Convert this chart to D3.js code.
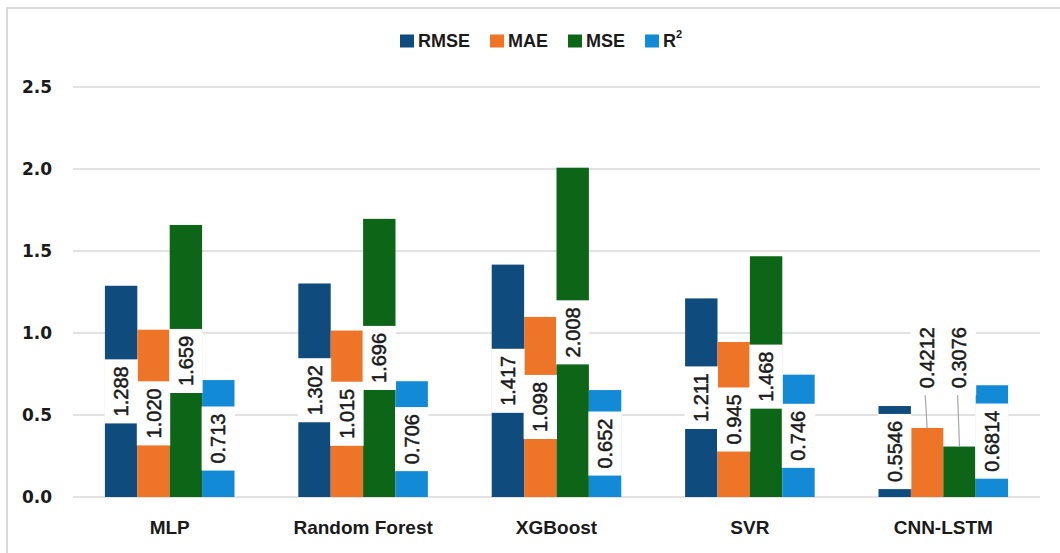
<!DOCTYPE html>
<html>
<head>
<meta charset="utf-8">
<script src="https://cdn.jsdelivr.net/npm/d3@7"></script>
<style>
  html, body { margin: 0; padding: 0; background: #fff; }
  svg { display: block; }
</style>
</head>
<body>
<svg id="chart" width="1060" height="553"></svg>
<script>
// Model comparison: error metrics and R² per model
const models = ["MLP", "Random Forest", "XGBoost", "SVR", "CNN-LSTM"];
const metrics = ["RMSE", "MAE", "MSE", "R²"];
const rmse = [1.288, 1.302, 1.417, 1.211, 0.5546];
const mae  = [1.020, 1.015, 1.098, 0.945, 0.4212];
const mse  = [1.659, 1.696, 2.008, 1.468, 0.3076];
const r2   = [0.713, 0.706, 0.652, 0.746, 0.6814];
const rmseLabels = ["1.288", "1.302", "1.417", "1.211", "0.5546"];
const maeLabels  = ["1.020", "1.015", "1.098", "0.945", "0.4212"];
const mseLabels  = ["1.659", "1.696", "2.008", "1.468", "0.3076"];
const r2Labels   = ["0.713", "0.706", "0.652", "0.746", "0.6814"];
const yTicks = [0, 0.5, 1.0, 1.5, 2.0, 2.5];
const colors = ["#0f4c7d", "#ee7428", "#0d6618", "#138ad6"];

const seriesValues = [rmse, mae, mse, r2];
const seriesLabels = [rmseLabels, maeLabels, mseLabels, r2Labels];

const svg = d3.select("#chart");
const W = 1060, H = 553;
const margin = { left: 73, right: 20, top: 87, bottom: 56 };

// frame
svg.append("rect")
  .attr("x", 7).attr("y", 8).attr("width", W).attr("height", H + 20)
  .attr("fill", "#fff").attr("stroke", "#dadada").attr("stroke-width", 2);

const x0 = d3.scaleBand().domain(models).range([margin.left, W - margin.right]).paddingInner(0.33).paddingOuter(0.165);
const x1 = d3.scaleBand().domain(metrics).range([0, x0.bandwidth()]);
const y = d3.scaleLinear().domain([0, 2.5]).range([H - margin.bottom, margin.top]);

// gridlines
svg.append("g")
  .selectAll("line").data(yTicks).join("line")
  .attr("x1", margin.left).attr("x2", W - margin.right)
  .attr("y1", d => y(d)).attr("y2", d => y(d))
  .attr("stroke", "#d9d9d9").attr("stroke-width", 1.5);

// y axis tick labels
const yAxis = d3.axisLeft(y).tickValues(yTicks).tickFormat(d3.format(".1f")).tickSize(0).tickPadding(0);
const gy = svg.append("g").attr("transform", `translate(52,0)`).call(yAxis);
gy.select(".domain").remove();
gy.selectAll("text")
  .attr("font-family", "DejaVu Sans, sans-serif").attr("font-weight", "bold")
  .attr("font-size", 17).attr("fill", "#1a1a1a");

// x axis category labels
const xAxis = d3.axisBottom(x0).tickSize(0).tickPadding(0);
const gx = svg.append("g").attr("transform", `translate(0,${H - margin.bottom + 23})`).call(xAxis);
gx.select(".domain").remove();
gx.selectAll("text")
  .attr("font-family", "Liberation Sans, Arial, sans-serif").attr("font-weight", "bold")
  .attr("font-size", 19).attr("fill", "#1a1a1a");

// flatten to bar records
const bars = [];
models.forEach((m, i) => {
  metrics.forEach((k, j) => {
    bars.push({ model: m, metric: k, si: j, value: seriesValues[j][i], label: seriesLabels[j][i] });
  });
});

const barG = svg.append("g");
barG.selectAll("rect").data(bars).join("rect")
  .attr("x", d => x0(d.model) + x1(d.metric))
  .attr("width", x1.bandwidth())
  .attr("y", d => y(d.value))
  .attr("height", d => y(0) - y(d.value))
  .attr("fill", d => colors[d.si]);

// data labels: rotated text on a white box, centred on the bar;
// bars too short for the box get a callout above with a leader line
const labelG = svg.append("g");
const fontSize = 20;
bars.forEach(d => {
  const cx = x0(d.model) + x1(d.metric) + x1.bandwidth() / 2;
  const g = labelG.append("g");
  const t = g.append("text")
    .attr("font-family", "Liberation Sans, Arial, sans-serif")
    .attr("font-size", fontSize)
    .attr("fill", "#1a1a1a")
    .attr("stroke", "#1a1a1a")
    .attr("stroke-width", 0.5)
    .attr("text-anchor", "middle")
    .attr("dominant-baseline", "central")
    .text(d.label);
  const len = t.node().getComputedTextLength();
  const boxH = len + 14;
  const boxW = x1.bandwidth() + 1;
  const barH = y(0) - y(d.value);
  let cy;
  if (boxH <= barH) {
    cy = (y(0) + y(d.value)) / 2;
  } else {
    cy = y(0.85);
    const lx = cx - 2;
    labelG.insert("line", ":first-child")
      .attr("x1", lx).attr("x2", cx)
      .attr("y1", cy + len / 2 + 4).attr("y2", y(d.value))
      .attr("stroke", "#a6a6a6").attr("stroke-width", 1.2);
  }
  g.insert("rect", "text")
    .attr("x", cx - boxW / 2).attr("y", cy - boxH / 2)
    .attr("width", boxW).attr("height", boxH)
    .attr("fill", "#fff");
  t.attr("transform", `translate(${cx},${cy}) rotate(-90)`);
});

// legend
const legendItems = metrics.map((m, i) => ({ name: m, color: colors[i] }));
const legend = svg.append("g").attr("transform", "translate(400,41)");
let lx = 0;
legendItems.forEach(it => {
  const g = legend.append("g").attr("transform", `translate(${lx},0)`);
  g.append("rect").attr("x", 0).attr("y", -6.5).attr("width", 14).attr("height", 13).attr("fill", it.color);
  const t = g.append("text").attr("x", 18).attr("y", 0)
    .attr("dominant-baseline", "central")
    .attr("font-family", "Liberation Sans, Arial, sans-serif").attr("font-weight", "bold")
    .attr("font-size", 18).attr("fill", "#1a1a1a");
  if (it.name === "R²") {
    t.append("tspan").text("R");
    t.append("tspan").attr("font-size", 11).attr("dy", -7).text("2");
  } else {
    t.text(it.name);
  }
  lx += 18 + t.node().getComputedTextLength() + 20;
});
</script>
</body>
</html>
